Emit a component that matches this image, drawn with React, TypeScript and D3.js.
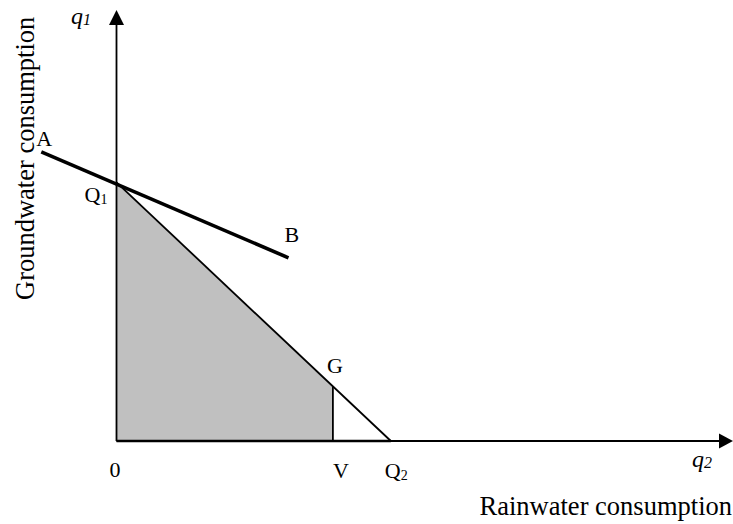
import React from "react";
import * as d3 from "d3";

// Abstract diagram coordinates (x: rainwater q2, y: groundwater q1)
const Q1 = { q2: 0, q1: 60 };
const Q2 = { q2: 44.5, q1: 0 };
const V = { q2: 35.1, q1: 0 };
const A = { q2: -12.2, q1: 67.1 };
const B = { q2: 27.9, q1: 42.5 };
const xLabel = "Rainwater consumption";
const yLabel = "Groundwater consumption";

const W = 733;
const H = 524;
const FONT = "'Liberation Serif', 'Times New Roman', serif";

export default function App() {
  const x = d3.scaleLinear().domain([0, 100]).range([116.5, 733]);
  const y = d3.scaleLinear().domain([0, 100]).range([441, 10]);

  // G lies on the Q1–Q2 budget line at V's q2
  const gq1 = Q1.q1 * (1 - V.q2 / Q2.q2);
  const G = { q2: V.q2, q1: gq1 };

  const line = d3
    .line<{ q2: number; q1: number }>()
    .x((d) => x(d.q2))
    .y((d) => y(d.q1));

  const shade = [{ q2: 0, q1: 0 }, Q1, G, V];

  const ox = x(0);
  const oy = y(0);

  return (
    <svg
      width={W}
      height={H}
      style={{ position: "absolute", left: 0, top: 0, background: "#fff" }}
      fontFamily={FONT}
    >
      {/* shaded area */}
      <path d={line(shade)! + "Z"} fill="#c0c0c0" stroke="none" />

      {/* axes */}
      <line x1={ox} y1={oy} x2={ox} y2={24} stroke="#000" strokeWidth={1.8} />
      <path d={`M${ox},10 L${ox - 7.5},25 L${ox + 7.5},25 Z`} fill="#000" />
      <line x1={ox} y1={oy} x2={721} y2={oy} stroke="#000" strokeWidth={1.8} />
      <path d={`M733,${oy} L719,${oy - 7.5} L719,${oy + 7.5} Z`} fill="#000" />

      {/* budget line Q1–Q2 */}
      <path d={line([Q1, Q2])!} fill="none" stroke="#000" strokeWidth={1.8} />
      {/* V–G */}
      <path d={line([V, G])!} fill="none" stroke="#000" strokeWidth={1.8} />
      {/* bottom edge emphasized */}
      <path d={line([{ q2: 0, q1: 0 }, Q2])!} fill="none" stroke="#000" strokeWidth={2.6} />
      {/* A–B line */}
      <path d={line([A, B])!} fill="none" stroke="#000" strokeWidth={3.6} />

      {/* point labels */}
      <g fontSize={22} fill="#000">
        <text x={x(A.q2) + 3} y={y(A.q1) - 6} textAnchor="middle">A</text>
        <text x={x(B.q2) - 4} y={y(B.q1) - 16}>B</text>
        <text x={x(G.q2) - 6} y={y(G.q1) - 13}>G</text>
        <text x={x(V.q2)} y={478}>V</text>
        <text x={x(0) - 1.5} y={477} textAnchor="middle">0</text>
        <text x={x(Q2.q2) - 6} y={478}>
          Q<tspan fontSize={14} dy={2}>2</tspan>
        </text>
        <text x={x(Q1.q2) - 32} y={y(Q1.q1) + 20}>
          Q<tspan fontSize={14} dy={2}>1</tspan>
        </text>
      </g>

      {/* axis symbols */}
      <g fontSize={24} fontStyle="italic" fill="#000">
        <text x={71} y={24}>
          q<tspan fontSize={16} dy={1}>1</tspan>
        </text>
        <text x={692} y={467}>
          q<tspan fontSize={16} dy={1}>2</tspan>
        </text>
      </g>

      {/* axis titles */}
      <text x={732} y={515} fontSize={26.5} textAnchor="end" fill="#000">
        {xLabel}
      </text>
      <text
        transform="translate(34,300) rotate(-90)"
        fontSize={26.5}
        textAnchor="start"
        fill="#000"
      >
        {yLabel}
      </text>
    </svg>
  );
}
